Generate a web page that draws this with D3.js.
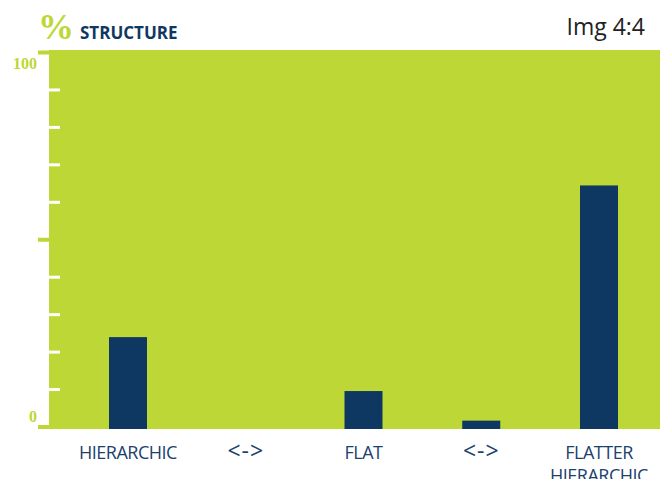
<!DOCTYPE html>
<html><head><meta charset="utf-8">
<script src="https://cdn.jsdelivr.net/npm/d3@7"></script>
<style>html,body{margin:0;padding:0;background:#fff;}svg{display:block;}</style>
</head><body>
<script>
const categories = [["HIERARCHIC"], ["<->"], ["FLAT"], ["<->"], ["FLATTER", "HIERARCHIC"]];
const values = [24, 0, 9.6, 1.7, 64.5];
const majorTicks = [0, 50, 100];
const tickLabels = ["0", "100"];
const minorTicks = [10, 20, 30, 40, 60, 70, 80, 90];
const title = "STRUCTURE";
const unit = "%";
const imgLabel = "Img 4:4";

const W = 660, H = 479;
const GREEN = "#bdd737", BLUE = "#0e3862", LABEL = "#1b426d";
const svg = d3.select("body").append("svg").attr("width", W).attr("height", H);

const plot = {left: 49, right: 660, top: 50, bottom: 429};
const keys = categories.map((c, i) => i);
const x = d3.scalePoint().domain(keys).range([128, 599]);
const y = d3.scaleLinear().domain([0, 100]).range([427, 52.5]);

svg.append("rect").attr("x", plot.left).attr("y", plot.top)
  .attr("width", plot.right - plot.left).attr("height", plot.bottom - plot.top).attr("fill", GREEN);

// bars
const bw = 38;
svg.selectAll("rect.bar").data(values).join("rect").attr("class", "bar")
  .attr("x", (d, i) => x(i) - bw / 2).attr("width", bw)
  .attr("y", d => y(d)).attr("height", d => d > 0 ? plot.bottom - y(d) : 0)
  .attr("fill", BLUE);

// minor white ticks
svg.selectAll("rect.minor").data(minorTicks).join("rect").attr("class", "minor")
  .attr("x", plot.left).attr("width", 11).attr("y", d => y(d) - 1.5).attr("height", 3)
  .attr("fill", "#fff");

// major green ticks outside
svg.selectAll("rect.major").data(majorTicks).join("rect").attr("class", "major")
  .attr("x", 38).attr("width", plot.left - 38)
  .attr("y", d => y(d) - 2).attr("height", 4)
  .attr("fill", GREEN);

// y labels
svg.append("text").attr("x", 37).attr("y", y(0) - 5).attr("text-anchor", "end")
  .attr("font-family", "Liberation Serif").attr("font-weight", "bold").attr("font-size", 16)
  .attr("fill", GREEN).text(tickLabels[0]);
svg.append("text").attr("x", 37).attr("y", y(100) + 16).attr("text-anchor", "end")
  .attr("font-family", "Liberation Serif").attr("font-weight", "bold").attr("font-size", 16)
  .attr("fill", GREEN).text(tickLabels[1]);

// x labels
const xl = svg.selectAll("text.xl").data(categories).join("text").attr("class", "xl")
  .attr("text-anchor", "middle").attr("font-family", "Open Sans")
  .attr("font-size", d => d[0] === "<->" ? 23 : 18)
  .attr("letter-spacing", d => d[0] === "<->" ? 1 : -0.5)
  .attr("fill", LABEL).attr("y", 459);
xl.each(function(d, i) {
  d3.select(this).selectAll("tspan").data(d).join("tspan")
    .attr("x", x(i)).attr("dy", (t, j) => j === 0 ? 0 : 23).text(t => t);
});

// title
svg.append("text").attr("x", 38).attr("y", 39).attr("font-family", "Liberation Serif")
  .attr("font-weight", "bold").attr("font-size", 36).attr("fill", GREEN).text(unit);
svg.append("text").attr("x", 80).attr("y", 39).attr("font-family", "Open Sans")
  .attr("font-weight", "bold").attr("font-size", 17).attr("fill", BLUE).text(title);
svg.append("text").attr("x", 645).attr("y", 35).attr("text-anchor", "end")
  .attr("font-family", "Open Sans").attr("font-size", 23).attr("fill", "#222").text(imgLabel);
</script>
</body></html>
